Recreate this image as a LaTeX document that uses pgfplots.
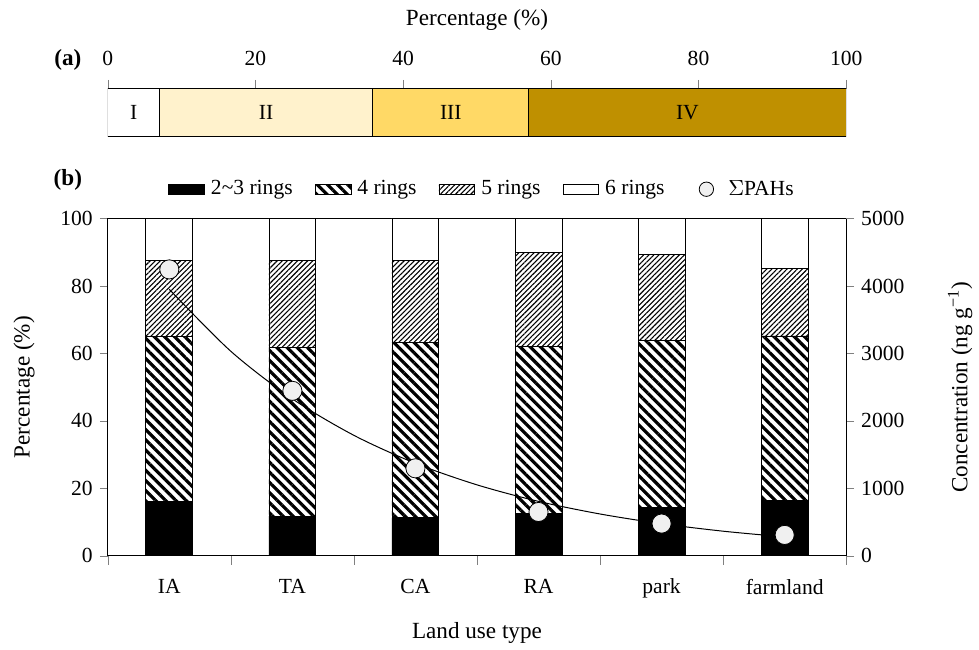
\documentclass[border=0pt]{standalone}
\usepackage{pgfplots}
\pgfplotsset{compat=1.18}
\usepackage{fontspec}
\setmainfont{Liberation Serif}
\usetikzlibrary{patterns.meta}
\definecolor{cII}{RGB}{255,242,204}
\definecolor{cIII}{RGB}{255,217,102}
\definecolor{cIV}{RGB}{191,144,0}
\definecolor{circ}{RGB}{240,240,240}
\newcommand{\tfont}{\fontsize{10.8pt}{12pt}\selectfont}
\newcommand{\lfont}{\fontsize{11.6pt}{13pt}\selectfont}
\pgfplotsset{rectlegend/.style={legend image code/.code={\draw[##1] (0pt,-2.6pt) rectangle (18pt,2.6pt);}},
  every tick label/.append style={font=\tfont},
  every axis label/.append style={font=\lfont}}
\begin{document}
\begin{tikzpicture}
\path (-54pt,-45pt) rectangle (435.5pt,278.5pt);
% ---------- panel (b) ----------
\begin{axis}[at={(0,0)}, anchor=south west, scale only axis,
  width=370pt, height=169pt,
  ybar stacked, bar width=23.5pt,
  xmin=-0.5, xmax=5.5, ymin=0, ymax=100,
  xtick={0,...,5}, xticklabels={IA,TA,CA,RA,park,farmland},
  major x tick style={draw=none},
  minor xtick={-0.5,0.5,...,5.5},
  xtick pos=bottom, ytick pos=left, tick align=outside,
  ytick={0,20,...,100},
  minor tick length=4.5pt, major tick length=4pt,
  /pgf/number format/assume math mode=true,
  xticklabel style={yshift=-4pt},
  xlabel={Land use type}, ylabel={Percentage (\%)},
  xlabel style={yshift=-5pt},
  ylabel style={yshift=6pt},
  legend style={at={(0.5,1)}, anchor=south, xshift=3pt, yshift=6pt, draw=none,
    legend columns=-1, font=\tfont,
    /tikz/every odd column/.append style={column sep=1pt},
    /tikz/every even column/.append style={column sep=9pt}},
  ]
\addplot[fill=black, draw=black, rectlegend]
  coordinates {(0,16.2) (1,11.8) (2,11.3) (3,12.6) (4,14.3) (5,16.3)};
\addlegendentry{2\textasciitilde3 rings}
\addplot[draw=black, pattern={Lines[angle=-45,distance=3.6pt,line width=1.6pt]}, rectlegend]
  coordinates {(0,48.8) (1,50.0) (2,52.0) (3,49.4) (4,49.6) (5,48.9)};
\addlegendentry{4 rings}
\addplot[draw=black, pattern={Lines[angle=45,distance=1.8pt,line width=0.55pt]}, rectlegend]
  coordinates {(0,22.7) (1,25.9) (2,24.4) (3,28.0) (4,25.4) (5,19.9)};
\addlegendentry{5 rings}
\addplot[fill=white, draw=black, rectlegend]
  coordinates {(0,12.3) (1,12.3) (2,12.3) (3,10.0) (4,10.7) (5,14.9)};
\addlegendentry{6 rings}
\addlegendimage{legend image code/.code={\path[draw=none, fill=none] (0pt,-0.1pt) rectangle (18pt,0.1pt); \draw[black, fill=circ, solid] (10pt,0pt) circle (3.6pt);}}
\addlegendentry{$\Sigma$PAHs}
\end{axis}
\begin{axis}[at={(0,0)}, anchor=south west, scale only axis,
  width=370pt, height=169pt,
  xmin=-0.5, xmax=5.5, ymin=0, ymax=5000,
  axis x line=none, axis y line*=right,
  ytick={0,1000,...,5000}, tick align=outside, major tick length=4pt,
  scaled y ticks=false,
  /pgf/number format/1000 sep={},
  /pgf/number format/assume math mode=true,
  ylabel={Concentration (ng g\textsuperscript{−1})},
  ylabel style={yshift=-15pt},
  ]
\addplot[black, line width=0.5pt, smooth] coordinates {
  (0,3950) (0.5,3032) (1,2327) (1.5,1786) (2,1371) (2.5,1052)
  (3,807) (3.5,620) (4,476) (4.5,365) (5,280)};
\addplot[only marks, mark=*, mark size=4.8pt, mark options={fill=circ, draw=black, line width=0.4pt}]
  coordinates {(0,4246) (1,2446) (2,1297) (3,650) (4,478) (5,310)};
\end{axis}
% ---------- panel (a) ----------
\begin{axis}[at={(0,210pt)}, anchor=south west, scale only axis,
  width=370pt, height=24pt,
  xbar stacked, bar width=24pt,
  xmin=0, xmax=100, ymin=-0.5, ymax=0.5,
  axis x line*=top, axis y line=none,
  axis line style={line width=0.8pt},
  xtick={0,20,...,100}, tick align=outside, major tick length=4.5pt,
  xticklabel pos=top,
  xticklabel style={yshift=3.5pt},
  /pgf/number format/assume math mode=true,
  xlabel={Percentage (\%)},
  xlabel style={yshift=3.5pt},
  ]
\addplot[fill=white, draw=black] coordinates {(7.0,0)};
\addplot[fill=cII, draw=black] coordinates {(28.9,0)};
\addplot[fill=cIII, draw=black] coordinates {(21.1,0)};
\addplot[fill=cIV, draw=black] coordinates {(43.0,0)};
\coordinate (lI) at (axis cs:3.5,0);
\coordinate (lII) at (axis cs:21.45,0);
\coordinate (lIII) at (axis cs:46.45,0);
\coordinate (lIV) at (axis cs:78.5,0);
\end{axis}
\node[font=\tfont] at (lI) {I};
\node[font=\tfont] at (lII) {II};
\node[font=\tfont] at (lIII) {III};
\node[font=\tfont] at (lIV) {IV};
\node[font=\lfont\bfseries] at (-20pt,248.5pt) {(a)};
\node[font=\lfont\bfseries] at (-20pt,188.5pt) {(b)};
\end{tikzpicture}
\end{document}
